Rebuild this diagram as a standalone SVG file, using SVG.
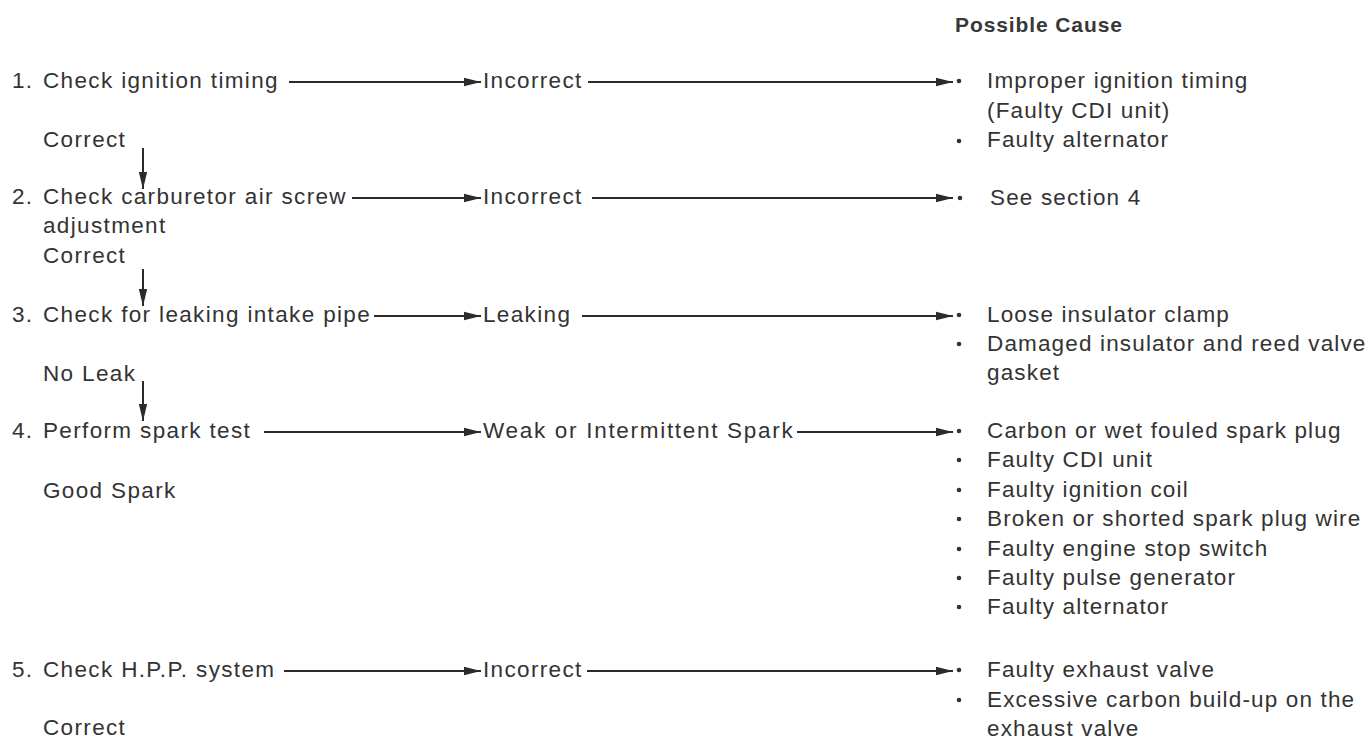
<svg xmlns="http://www.w3.org/2000/svg" width="1372" height="740" viewBox="0 0 1372 740">
<defs>
<style>
text{font-family:"Liberation Sans",Arial,sans-serif;font-size:22.5px;letter-spacing:1.35px;fill:#333333}
.r text{letter-spacing:1.15px}
.h{font-size:21px;font-weight:bold;letter-spacing:0.9px;fill:#383838}
.c line{stroke:#2b2b2b;stroke-width:2}
.a{marker-end:url(#ah)}
.b{fill:#333333}
</style>
<marker id="ah" markerUnits="userSpaceOnUse" markerWidth="18" markerHeight="10" refX="17" refY="5" orient="auto">
<path d="M0,0.8 L17,5 L0,9.2 z" fill="#2b2b2b"/>
</marker>
</defs>
<rect width="1372" height="740" fill="#ffffff"/>
<text class="h" x="955" y="32">Possible Cause</text>

<g id="step1"><text x="12" y="88">1.</text><text x="43" y="88">Check ignition timing</text></g>
<g id="step1-yes"><text x="43" y="147">Correct</text></g>
<g id="result1"><text x="483" y="88">Incorrect</text></g>
<g id="cause1" class="r">
<circle class="b" cx="959" cy="81" r="2.3"/><text x="987" y="88">Improper ignition timing</text>
<text x="987" y="118">(Faulty CDI unit)</text>
<circle class="b" cx="959" cy="141" r="2.3"/><text x="987" y="147">Faulty alternator</text>
</g>

<g id="step2"><text x="12" y="204">2.</text><text x="43" y="204">Check carburetor air screw</text><text x="43" y="233">adjustment</text></g>
<g id="step2-yes"><text x="43" y="263">Correct</text></g>
<g id="result2"><text x="483" y="204">Incorrect</text></g>
<g id="cause2" class="r"><circle class="b" cx="960" cy="198" r="2.3"/><text x="990" y="205">See section 4</text></g>

<g id="step3"><text x="12" y="322">3.</text><text x="43" y="322">Check for leaking intake pipe</text></g>
<g id="step3-yes"><text x="43" y="381">No Leak</text></g>
<g id="result3"><text x="483" y="322">Leaking</text></g>
<g id="cause3" class="r">
<circle class="b" cx="959" cy="315" r="2.3"/><text x="987" y="322">Loose insulator clamp</text>
<circle class="b" cx="959" cy="344" r="2.3"/><text x="987" y="351">Damaged insulator and reed valve</text>
<text x="987" y="380">gasket</text>
</g>

<g id="step4"><text x="12" y="438">4.</text><text x="43" y="438">Perform spark test</text></g>
<g id="step4-yes"><text x="43" y="498">Good Spark</text></g>
<g id="result4"><text x="483" y="438" style="letter-spacing:1.7px">Weak or Intermittent Spark</text></g>
<g id="cause4" class="r">
<circle class="b" cx="959" cy="431" r="2.3"/><text x="987" y="438">Carbon or wet fouled spark plug</text>
<circle class="b" cx="959" cy="460" r="2.3"/><text x="987" y="467">Faulty CDI unit</text>
<circle class="b" cx="959" cy="490" r="2.3"/><text x="987" y="497">Faulty ignition coil</text>
<circle class="b" cx="959" cy="519" r="2.3"/><text x="987" y="526">Broken or shorted spark plug wire</text>
<circle class="b" cx="959" cy="549" r="2.3"/><text x="987" y="556">Faulty engine stop switch</text>
<circle class="b" cx="959" cy="578" r="2.3"/><text x="987" y="585">Faulty pulse generator</text>
<circle class="b" cx="959" cy="607" r="2.3"/><text x="987" y="614">Faulty alternator</text>
</g>

<g id="step5"><text x="12" y="677">5.</text><text x="43" y="677">Check H.P.P. system</text></g>
<g id="step5-yes"><text x="43" y="735">Correct</text></g>
<g id="result5"><text x="483" y="677">Incorrect</text></g>
<g id="cause5" class="r">
<circle class="b" cx="959" cy="670" r="2.3"/><text x="987" y="677">Faulty exhaust valve</text>
<circle class="b" cx="959" cy="700" r="2.3"/><text x="987" y="707">Excessive carbon build-up on the</text>
<text x="987" y="736">exhaust valve</text>
</g>

<g id="connectors" class="c">
<line class="a" x1="289" y1="82" x2="481" y2="82"/>
<line class="a" x1="588" y1="82" x2="953" y2="82"/>
<line class="a" x1="143" y1="148" x2="143" y2="189"/>
<line class="a" x1="352" y1="198" x2="481" y2="198"/>
<line class="a" x1="592" y1="198" x2="953" y2="198"/>
<line class="a" x1="143" y1="269" x2="143" y2="306"/>
<line class="a" x1="374" y1="316" x2="481" y2="316"/>
<line class="a" x1="582" y1="316" x2="953" y2="316"/>
<line class="a" x1="143" y1="381" x2="143" y2="421"/>
<line class="a" x1="264" y1="432" x2="481" y2="432"/>
<line class="a" x1="797" y1="432" x2="953" y2="432"/>
<line class="a" x1="284" y1="671" x2="481" y2="671"/>
<line class="a" x1="587" y1="671" x2="953" y2="671"/>
</g>
</svg>
